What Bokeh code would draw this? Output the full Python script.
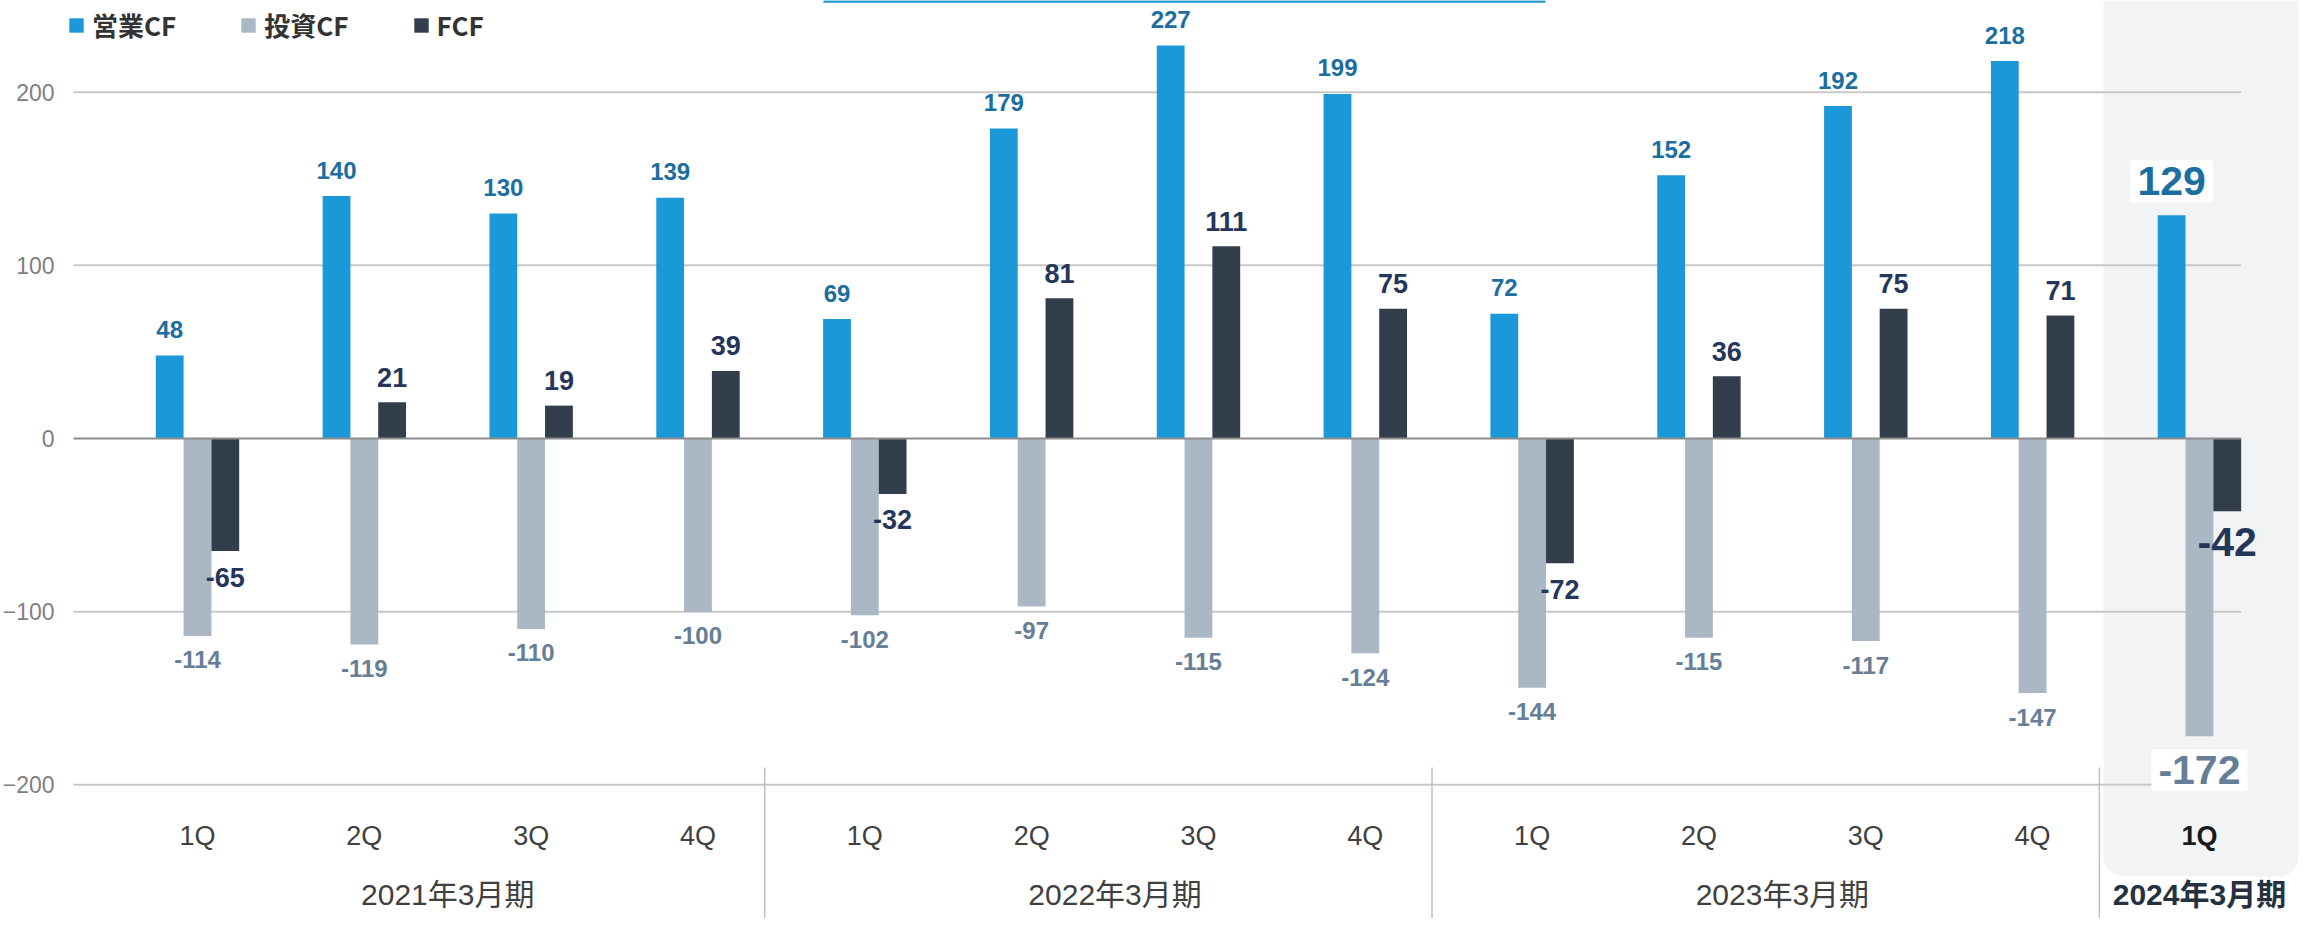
from bokeh.plotting import figure
from bokeh.models import (Range1d, LinearAxis, FixedTicker, BoxAnnotation,
                          Legend, LegendItem)
from bokeh.core.properties import value
from bokeh.embed import file_html
from bokeh.resources import INLINE

# ---------------- data ----------------
quarters = ["1Q", "2Q", "3Q", "4Q", "1Q", "2Q", "3Q", "4Q",
            "1Q", "2Q", "3Q", "4Q", "1Q"]
fiscal_years = ["2021年3月期", "2022年3月期", "2023年3月期", "2024年3月期"]
quarters_per_year = [4, 4, 4, 1]
operating_cf = [48, 140, 130, 139, 69, 179, 227, 199, 72, 152, 192, 218, 129]
investing_cf = [-114, -119, -110, -100, -102, -97, -115, -124, -144, -115, -117, -147, -172]
free_cf = [-65, 21, 19, 39, -32, 81, 111, 75, -72, 36, 75, 71, -42]
series_names = ["営業CF", "投資CF", "FCF"]
y_ticks = [-200, -100, 0, 100, 200]

# ---------------- style ----------------
BLUE, GRAY, DARK = "#1A98D8", "#AAB7C4", "#323E4C"
BLUE_TXT, GRAY_TXT, DARK_TXT = "#1B6E9F", "#667E97", "#24365A"
NUM_FONT = "Liberation Sans"
JP_FONT = "Liberation Sans, Noto Sans CJK JP"

n = len(quarters)
idx = list(range(n))
hl = n - 1            # highlighted latest quarter
reg = idx[:-1]
W = 1 / 6             # bar width (three bars per group)

X_START, X_END = -1.1808, 12.6297
Y_START, Y_END = -277.2, 252.96
grid_left = -0.743
grid_right = hl + 1.5 * W

p = figure(width=2304, height=918,
           x_range=Range1d(X_START, X_END), y_range=Range1d(Y_START, Y_END),
           x_axis_type=None, y_axis_type=None,
           toolbar_location=None, output_backend="svg",
           min_border=0, outline_line_color=None,
           background_fill_color="white", border_fill_color="white")

# highlighted panel for the latest quarter
panel = BoxAnnotation(left=hl - 0.575, right=hl + 0.594, bottom=-252.96, top=Y_END,
                      fill_color="#F2F3F5", fill_alpha=1.0, line_color=None,
                      border_radius=(0, 0, 20, 20), level="underlay")
p.add_layout(panel)

# accent line at the top edge
p.segment(x0=[3.752], y0=[Y_END - 0.6], x1=[8.08], y1=[Y_END - 0.6],
          line_color=BLUE, line_width=2.5)

# horizontal grid lines (non-zero)
gt = [t for t in y_ticks if t != 0]
p.segment(x0=[grid_left] * len(gt), y0=gt, x1=[grid_right] * len(gt), y1=gt,
          line_color="#C8C8C8", line_width=2)

# separators between fiscal years
seps = []
acc = 0
for k in quarters_per_year[:-1]:
    acc += k
    seps.append(acc - 1 + 0.4)
p.segment(x0=seps, y0=[-190] * len(seps), x1=seps, y1=[Y_START] * len(seps),
          line_color="#C0C0C0", line_width=1.5)

# bars
r_op = p.vbar(x=[i - W for i in idx], top=operating_cf, bottom=0, width=W,
              fill_color=BLUE, line_color=None)
r_inv = p.vbar(x=idx, top=investing_cf, bottom=0, width=W,
               fill_color=GRAY, line_color=None)
r_fcf = p.vbar(x=[i + W for i in idx], top=free_cf, bottom=0, width=W,
               fill_color=DARK, line_color=None)

# zero line
p.segment(x0=[grid_left], y0=[0], x1=[grid_right], y1=[0],
          line_color="#8C8C8C", line_width=2)

# value labels (regular quarters)
common = dict(text_align="center", text_baseline="alphabetic",
              text_font=value(NUM_FONT), text_font_style="bold")
p.text(x=[i - W for i in reg], y=[operating_cf[i] for i in reg],
       text=[str(operating_cf[i]) for i in reg], y_offset=-26,
       text_font_size="24px", text_color=BLUE_TXT, **common)
p.text(x=reg, y=[investing_cf[i] for i in reg],
       text=[str(investing_cf[i]) for i in reg], y_offset=24,
       text_font_size="24px", text_color=GRAY_TXT, **common)
p.text(x=[i + W for i in reg], y=[free_cf[i] for i in reg],
       text=[str(free_cf[i]) for i in reg],
       y_offset=[-25 if free_cf[i] >= 0 else 26 for i in reg],
       text_font_size="27px", text_color=DARK_TXT, **common)

# value labels (highlighted quarter)
p.text(x=[hl - W], y=[operating_cf[hl]], text=[str(operating_cf[hl])], y_offset=-34,
       text_font_size="41px", text_color=BLUE_TXT,
       background_fill_color="white", padding=7, **common)
p.text(x=[hl + W], y=[free_cf[hl]], text=[str(free_cf[hl])], y_offset=31,
       text_font_size="41px", text_color=DARK_TXT, **common)
p.text(x=[hl], y=[investing_cf[hl]], text=[str(investing_cf[hl])], y_offset=34,
       text_font_size="41px", text_color=GRAY_TXT,
       background_fill_color="white", padding=7, **common)

# y axis
yax = LinearAxis(ticker=FixedTicker(ticks=y_ticks), fixed_location=grid_left,
                 axis_line_color=None, major_tick_line_color=None,
                 minor_tick_line_color=None, major_tick_out=0, major_tick_in=0,
                 major_label_standoff=19, major_label_text_font=NUM_FONT,
                 major_label_text_font_size="23px",
                 major_label_text_color="#7F7F7F")
p.add_layout(yax, "left")


def cat_axis(ticks, labels, standoff, size, color, style, font):
    ax = LinearAxis(ticker=FixedTicker(ticks=ticks), fixed_location=y_ticks[0],
                    major_label_overrides={t: l for t, l in zip(ticks, labels)},
                    axis_line_color=None, major_tick_line_color=None,
                    minor_tick_line_color=None, major_tick_out=0, major_tick_in=0,
                    major_label_standoff=standoff, major_label_text_font=font,
                    major_label_text_font_size=size,
                    major_label_text_color=color,
                    major_label_text_font_style=style)
    p.add_layout(ax, "below")


# quarter labels
cat_axis(reg, [quarters[i] for i in reg], 36, "27px", "#404040", "normal", NUM_FONT)
cat_axis([hl], [quarters[hl]], 36, "27px", "#1A1A1A", "bold", NUM_FONT)

# fiscal year labels
centers = []
start = 0
for k in quarters_per_year:
    centers.append(start + (k - 1) / 2)
    start += k
cat_axis(centers[:-1], fiscal_years[:-1], 93, "30px", "#404040", "normal", JP_FONT)
cat_axis(centers[-1:], fiscal_years[-1:], 93, "30px", "#263140", "bold", JP_FONT)

# legend
legend = Legend(items=[LegendItem(label=series_names[0], renderers=[r_op]),
                       LegendItem(label=series_names[1], renderers=[r_inv]),
                       LegendItem(label=series_names[2], renderers=[r_fcf])],
                orientation="horizontal", location=(67, 875),
                padding=0, margin=0, spacing=63, label_standoff=7,
                glyph_width=18, glyph_height=18, label_height=18,
                label_text_font="Noto Sans CJK JP", label_text_font_style="bold",
                label_text_font_size="26px", label_text_color="#333333",
                background_fill_alpha=0, border_line_color=None)
p.add_layout(legend)

open("out.html", "w").write(file_html(p, INLINE))
